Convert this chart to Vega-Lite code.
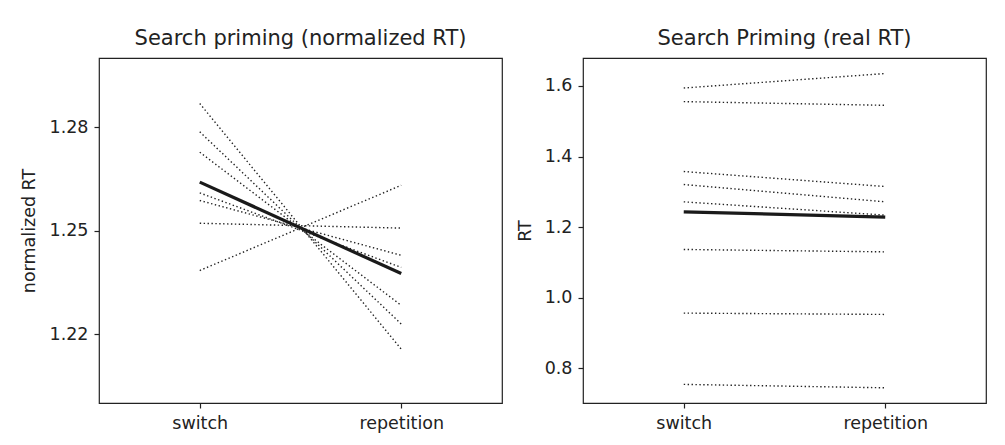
{
  "$schema": "https://vega.github.io/schema/vega-lite/v6.json",
  "padding": {"left": 19, "top": 27, "right": 0, "bottom": 0},
  "background": "white",
  "bounds": "flush",
  "spacing": 81,
  "config": {
    "font": "DejaVu Sans",
    "view": {"stroke": "#222", "strokeWidth": 1.2},
    "axis": {
      "grid": false,
      "domain": false,
      "tickColor": "#222",
      "tickWidth": 1.2,
      "tickSize": 5,
      "labelFont": "DejaVu Sans",
      "labelFontSize": 17.5,
      "labelColor": "#222",
      "titleFont": "DejaVu Sans",
      "titleFontSize": 17.5,
      "titleFontWeight": "normal",
      "titleColor": "#222"
    },
    "title": {"font": "DejaVu Sans", "fontSize": 21, "fontWeight": "normal", "color": "#222", "frame": "group", "anchor": "middle", "baseline": "alphabetic", "offset": 9}
  },
  "datasets": {
    "rt": [
      {"panel": "norm", "subject": "A", "condition": "switch", "rt": 1.2868},
      {"panel": "norm", "subject": "A", "condition": "repetition", "rt": 1.2156},
      {"panel": "norm", "subject": "B", "condition": "switch", "rt": 1.2786},
      {"panel": "norm", "subject": "B", "condition": "repetition", "rt": 1.2229},
      {"panel": "norm", "subject": "C", "condition": "switch", "rt": 1.2727},
      {"panel": "norm", "subject": "C", "condition": "repetition", "rt": 1.2283},
      {"panel": "norm", "subject": "D", "condition": "switch", "rt": 1.2609},
      {"panel": "norm", "subject": "D", "condition": "repetition", "rt": 1.2393},
      {"panel": "norm", "subject": "E", "condition": "switch", "rt": 1.2587},
      {"panel": "norm", "subject": "E", "condition": "repetition", "rt": 1.2428},
      {"panel": "norm", "subject": "F", "condition": "switch", "rt": 1.2521},
      {"panel": "norm", "subject": "F", "condition": "repetition", "rt": 1.2507},
      {"panel": "norm", "subject": "G", "condition": "switch", "rt": 1.2384},
      {"panel": "norm", "subject": "G", "condition": "repetition", "rt": 1.2631},
      {"panel": "real", "subject": "1", "condition": "switch", "rt": 1.594},
      {"panel": "real", "subject": "1", "condition": "repetition", "rt": 1.635},
      {"panel": "real", "subject": "2", "condition": "switch", "rt": 1.5555},
      {"panel": "real", "subject": "2", "condition": "repetition", "rt": 1.545},
      {"panel": "real", "subject": "3", "condition": "switch", "rt": 1.3575},
      {"panel": "real", "subject": "3", "condition": "repetition", "rt": 1.315},
      {"panel": "real", "subject": "4", "condition": "switch", "rt": 1.3207},
      {"panel": "real", "subject": "4", "condition": "repetition", "rt": 1.2717},
      {"panel": "real", "subject": "5", "condition": "switch", "rt": 1.2717},
      {"panel": "real", "subject": "5", "condition": "repetition", "rt": 1.234},
      {"panel": "real", "subject": "6", "condition": "switch", "rt": 1.1368},
      {"panel": "real", "subject": "6", "condition": "repetition", "rt": 1.13},
      {"panel": "real", "subject": "7", "condition": "switch", "rt": 0.9566},
      {"panel": "real", "subject": "7", "condition": "repetition", "rt": 0.9528},
      {"panel": "real", "subject": "8", "condition": "switch", "rt": 0.7547},
      {"panel": "real", "subject": "8", "condition": "repetition", "rt": 0.745}
    ]
  },
  "hconcat": [
    {
      "title": "Search priming (normalized RT)",
      "width": 403,
      "height": 345,
      "data": {"name": "rt"},
      "transform": [{"filter": "datum.panel === 'norm'"}],
      "encoding": {
        "x": {"field": "condition", "type": "nominal", "sort": ["switch", "repetition"],
              "scale": {"type": "point", "padding": 0.5},
              "axis": {"title": null, "labelAngle": 0, "labelBaseline": "alphabetic", "labelPadding": 20}},
        "y": {"field": "rt", "type": "quantitative",
              "scale": {"domain": [1.2, 1.3], "nice": false, "zero": false},
              "axis": {"title": "normalized RT", "values": [1.22, 1.25, 1.28], "format": ".2f", "labelPadding": 6, "titlePadding": 11}}
      },
      "layer": [
        {"mark": {"type": "line", "color": "#222", "strokeWidth": 1.4, "strokeDash": [1.4, 2.5]},
         "encoding": {"detail": {"field": "subject"}}},
        {"mark": {"type": "line", "color": "#1a1a1a", "strokeWidth": 3.2},
         "encoding": {"y": {"aggregate": "mean", "field": "rt", "type": "quantitative"}}}
      ]
    },
    {
      "title": "Search Priming (real RT)",
      "width": 403,
      "height": 345,
      "data": {"name": "rt"},
      "transform": [{"filter": "datum.panel === 'real'"}],
      "encoding": {
        "x": {"field": "condition", "type": "nominal", "sort": ["switch", "repetition"],
              "scale": {"type": "point", "padding": 0.5},
              "axis": {"title": null, "labelAngle": 0, "labelBaseline": "alphabetic", "labelPadding": 20}},
        "y": {"field": "rt", "type": "quantitative",
              "scale": {"domain": [0.702, 1.679], "nice": false, "zero": false},
              "axis": {"title": "RT", "values": [0.8, 1.0, 1.2, 1.4, 1.6], "format": ".1f", "labelPadding": 6, "titlePadding": 10}}
      },
      "layer": [
        {"mark": {"type": "line", "color": "#222", "strokeWidth": 1.4, "strokeDash": [1.4, 2.5]},
         "encoding": {"detail": {"field": "subject"}}},
        {"mark": {"type": "line", "color": "#1a1a1a", "strokeWidth": 3.2},
         "encoding": {"y": {"aggregate": "mean", "field": "rt", "type": "quantitative"}}}
      ]
    }
  ]
}
